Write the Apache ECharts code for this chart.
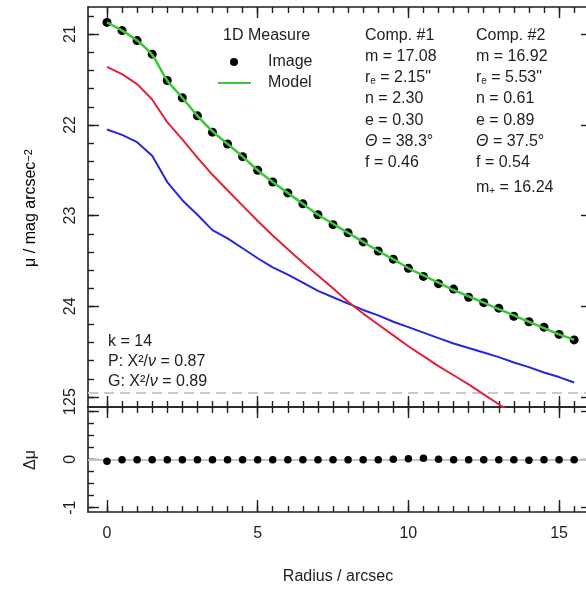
<!DOCTYPE html>
<html>
<head>
<meta charset="utf-8">
<script src="https://cdn.jsdelivr.net/npm/echarts@6/dist/echarts.min.js"></script>
<style>
  html, body { margin: 0; padding: 0; background: #fff; }
  #chart { width: 586px; height: 590px; }
</style>
</head>
<body>
<div id="chart"></div>
<script>
// Sampled radii (arcsec)
const radius = [0, 0.5, 1, 1.5, 2, 2.5, 3, 3.5, 4, 4.5, 5, 5.5, 6, 6.5, 7, 7.5,
  8, 8.5, 9, 9.5, 10, 10.5, 11, 11.5, 12, 12.5, 13, 13.5, 14, 14.5, 15, 15.5];

// Measured surface brightness profile (mag / arcsec^2)
const imageMu = [20.87, 20.96, 21.07, 21.22, 21.51, 21.70, 21.90, 22.08, 22.21, 22.35,
  22.50, 22.63, 22.75, 22.87, 22.99, 23.10, 23.19, 23.29, 23.39, 23.48,
  23.58, 23.67, 23.75, 23.81, 23.90, 23.96, 24.02, 24.11, 24.17, 24.23, 24.31, 24.37];

// Total model profile
const modelMu = [20.87, 20.96, 21.07, 21.23, 21.51, 21.70, 21.90, 22.07, 22.21, 22.35,
  22.50, 22.63, 22.75, 22.87, 22.99, 23.09, 23.19, 23.29, 23.39, 23.48,
  23.58, 23.66, 23.74, 23.82, 23.89, 23.96, 24.03, 24.10, 24.17, 24.24, 24.31, 24.37];

// Component #1 (red) and component #2 (blue)
const comp1Mu = [21.36, 21.44, 21.55, 21.72, 21.97, 22.16, 22.36, 22.55, 22.72, 22.89,
  23.06, 23.22, 23.37, 23.52, 23.66, 23.80, 23.95, 24.08, 24.20, 24.32,
  24.44, 24.55, 24.66, 24.76, 24.86, 24.97, 25.08, 25.19];
const comp2Mu = [22.05, 22.11, 22.19, 22.34, 22.63, 22.83, 22.99, 23.16, 23.25, 23.36,
  23.47, 23.57, 23.65, 23.74, 23.83, 23.90, 23.97, 24.04, 24.10, 24.17,
  24.23, 24.29, 24.35, 24.41, 24.46, 24.51, 24.56, 24.62, 24.67, 24.73, 24.78, 24.84];

// Residuals image - model
const residual = [-0.04, -0.01, -0.01, -0.01, -0.01, -0.01, -0.01, -0.01, -0.01, -0.01,
  -0.01, -0.01, -0.01, -0.01, -0.01, -0.01, -0.01, -0.01, -0.01, 0.00,
  0.01, 0.02, 0.00, -0.01, -0.01, -0.01, -0.01, -0.01, -0.02, -0.01, -0.01, -0.01];

// Sky level (dashed)
const skyMu = 24.95;

// Tick labels
const xMajorTicks = [0, 5, 10, 15];
const muTicks = [21, 22, 23, 24, 25];
const dmuTicks = [-1, 0, 1];

// Axis ranges
const xMin = -0.63, xMax = 15.96;
const muMin = 20.70, muMax = 25.11;
const dmuMin = -1.09, dmuMax = 1.08;

function steps(from, to, step) {
  const out = [];
  for (let v = from; v <= to + 1e-9; v += step) out.push(Math.round(v * 100) / 100);
  return out;
}
const xMinorTicks = steps(0, 15.5, 0.5);
const muMinorTicks = steps(20.8, 25.0, 0.2);
const dmuMinorTicks = steps(-1, 1, 0.25);

const ink = '#1e1e1e';
const font = "'Liberation Sans', Arial, Helvetica, sans-serif";
const green = '#3cc63c', red = '#e4203a', blue = '#2626e0';

const pairs = (ys) => ys.map((y, i) => [radius[i], y]);

function xAx(grid, pos, ticks, len, showLine, extra) {
  return Object.assign({
    type: 'value', gridIndex: grid, position: pos, min: xMin, max: xMax,
    axisLine: { show: showLine, onZero: false, lineStyle: { color: ink, width: 1.6 } },
    axisTick: { show: true, inside: true, length: len, customValues: ticks,
      lineStyle: { color: ink, width: 1.4 } },
    axisLabel: { show: false },
    splitLine: { show: false }
  }, extra || {});
}
function yAx(grid, pos, min, max, inverse, ticks, len, showLine, extra) {
  return Object.assign({
    type: 'value', gridIndex: grid, position: pos, min: min, max: max, inverse: inverse,
    axisLine: { show: showLine, onZero: false, lineStyle: { color: ink, width: 1.6 } },
    axisTick: { show: true, inside: true, length: len, customValues: ticks,
      lineStyle: { color: ink, width: 1.4 } },
    axisLabel: { show: false },
    splitLine: { show: false }
  }, extra || {});
}
const tickLabel = (vals, margin, rotate) => ({
  show: true, customValues: vals, margin: margin, rotate: rotate || 0,
  color: ink, fontSize: 16, fontFamily: font
});

const chart = echarts.init(document.getElementById('chart'), null, { renderer: 'canvas' });

const txt = (x, y, text, rich) => ({
  type: 'text', x: x, y: y, z: 100,
  style: { text: text, fill: ink, font: '16px ' + font, align: 'left', verticalAlign: 'middle',
    rich: rich || undefined }
});
const richBase = {
  n: { fontSize: 16, fontFamily: font, color: ink },
  s: { fontSize: 10, fontFamily: font, color: ink, verticalAlign: 'bottom' },
  i: { fontSize: 16, fontFamily: font, color: ink, fontStyle: 'italic' },
  u: { fontSize: 11, fontFamily: font, color: ink, verticalAlign: 'top' }
};

const colA = 365, colB = 476;
const rows = [36, 57, 78, 99, 121, 142, 163];

chart.setOption({
  animation: false,
  backgroundColor: '#fff',
  grid: [
    { left: 88, top: 7, width: 500, height: 400, outerBoundsMode: 'none' },
    { left: 88, top: 407, width: 500, height: 105, outerBoundsMode: 'none' }
  ],
  xAxis: [
    xAx(0, 'bottom', xMajorTicks, 11, true),              // 0: profile panel, shared edge
    xAx(0, 'bottom', xMinorTicks, 6, false),
    xAx(0, 'top', xMajorTicks, 11, true),
    xAx(0, 'top', xMinorTicks, 6, false),
    xAx(1, 'bottom', xMajorTicks, 12, true, {             // 4: residual panel
      axisLabel: tickLabel(xMajorTicks, 14),
      name: 'Radius / arcsec', nameLocation: 'middle', nameGap: 57,
      nameTextStyle: { color: ink, fontSize: 16, fontFamily: font }
    }),
    xAx(1, 'bottom', xMinorTicks, 6, false),
    xAx(1, 'top', xMajorTicks, 11, true),
    xAx(1, 'top', xMinorTicks, 6, false)
  ],
  yAxis: [
    yAx(0, 'left', muMin, muMax, true, muTicks, 11, true, { axisLabel: tickLabel(muTicks, 9, 90) }),
    yAx(0, 'left', muMin, muMax, true, muMinorTicks, 6, false),
    yAx(0, 'right', muMin, muMax, true, muTicks, 7, true),
    yAx(1, 'left', dmuMin, dmuMax, false, dmuTicks, 11, true, { axisLabel: tickLabel(dmuTicks, 9, 90) }),
    yAx(1, 'left', dmuMin, dmuMax, false, dmuMinorTicks, 6, false),
    yAx(1, 'right', dmuMin, dmuMax, false, dmuTicks, 7, true)
  ],
  series: [
    {
      name: 'Comp. #2', type: 'line', xAxisIndex: 0, yAxisIndex: 0, z: 2,
      data: pairs(comp2Mu), showSymbol: false, symbol: 'none',
      lineStyle: { color: blue, width: 2 },
      markLine: {
        silent: true, symbol: 'none', label: { show: false },
        lineStyle: { color: '#cacaca', type: [10, 6], width: 2 },
        data: [{ yAxis: skyMu }]
      }
    },
    {
      name: 'Comp. #1', type: 'line', xAxisIndex: 0, yAxisIndex: 0, z: 6,
      data: pairs(comp1Mu), showSymbol: false, symbol: 'none',
      lineStyle: { color: red, width: 2 }
    },
    {
      name: 'Image', type: 'scatter', xAxisIndex: 0, yAxisIndex: 0, z: 7,
      data: pairs(imageMu), symbol: 'circle', symbolSize: 9,
      itemStyle: { color: '#000', opacity: 1 }
    },
    {
      name: 'Model', type: 'line', xAxisIndex: 0, yAxisIndex: 0, z: 8,
      data: pairs(modelMu), showSymbol: false, symbol: 'none', smooth: 0.25,
      lineStyle: { color: green, width: 2.5 }
    },
    {
      name: 'Zero', type: 'line', xAxisIndex: 4, yAxisIndex: 3, z: 1,
      data: [],
      markLine: {
        silent: true, symbol: 'none', label: { show: false },
        lineStyle: { color: '#c4c4c4', type: 'solid', width: 2 },
        data: [{ yAxis: 0 }]
      }
    },
    {
      name: 'Residual', type: 'scatter', xAxisIndex: 4, yAxisIndex: 3, z: 10,
      data: pairs(residual), symbol: 'circle', symbolSize: 7.5,
      itemStyle: { color: '#000', opacity: 1 }
    }
  ],
  graphic: [
    // axis titles
    {
      type: 'text', x: 31, y: 208, rotation: Math.PI / 2, z: 100,
      style: {
        text: '{n|μ / mag arcsec}{u|−2}', align: 'center', verticalAlign: 'middle',
        rich: richBase
      }
    },
    {
      type: 'text', x: 31, y: 460, rotation: Math.PI / 2, z: 100,
      style: { text: 'Δμ', fill: ink, font: '16px ' + font, align: 'center', verticalAlign: 'middle' }
    },
    // legend
    txt(223, 36, '1D Measure'),
    { type: 'circle', z: 100, shape: { cx: 234, cy: 62, r: 4 }, style: { fill: '#000' } },
    txt(268, 62, 'Image'),
    { type: 'line', z: 100, shape: { x1: 218, y1: 83, x2: 251, y2: 83 }, style: { stroke: green, lineWidth: 2 } },
    txt(268, 83, 'Model'),
    // component parameters
    txt(colA, rows[0], 'Comp. #1'),
    txt(colA, rows[1], 'm = 17.08'),
    txt(colA, rows[2], '{n|r}{s|e}{n| = 2.15"}', richBase),
    txt(colA, rows[3], 'n = 2.30'),
    txt(colA, rows[4], 'e = 0.30'),
    txt(colA, rows[5], '{i|Θ}{n| = 38.3°}', richBase),
    txt(colA, rows[6], 'f = 0.46'),
    txt(colB, rows[0], 'Comp. #2'),
    txt(colB, rows[1], 'm = 16.92'),
    txt(colB, rows[2], '{n|r}{s|e}{n| = 5.53"}', richBase),
    txt(colB, rows[3], 'n = 0.61'),
    txt(colB, rows[4], 'e = 0.89'),
    txt(colB, rows[5], '{i|Θ}{n| = 37.5°}', richBase),
    txt(colB, rows[6], 'f = 0.54'),
    txt(colB, 188, '{n|m}{s|+}{n| = 16.24}', richBase),
    // fit statistics
    txt(108, 342, 'k = 14'),
    txt(108, 362, '{n|P: X²/}{i|ν}{n| = 0.87}', richBase),
    txt(108, 382, '{n|G: X²/}{i|ν}{n| = 0.89}', richBase)
  ]
});
</script>
</body>
</html>
